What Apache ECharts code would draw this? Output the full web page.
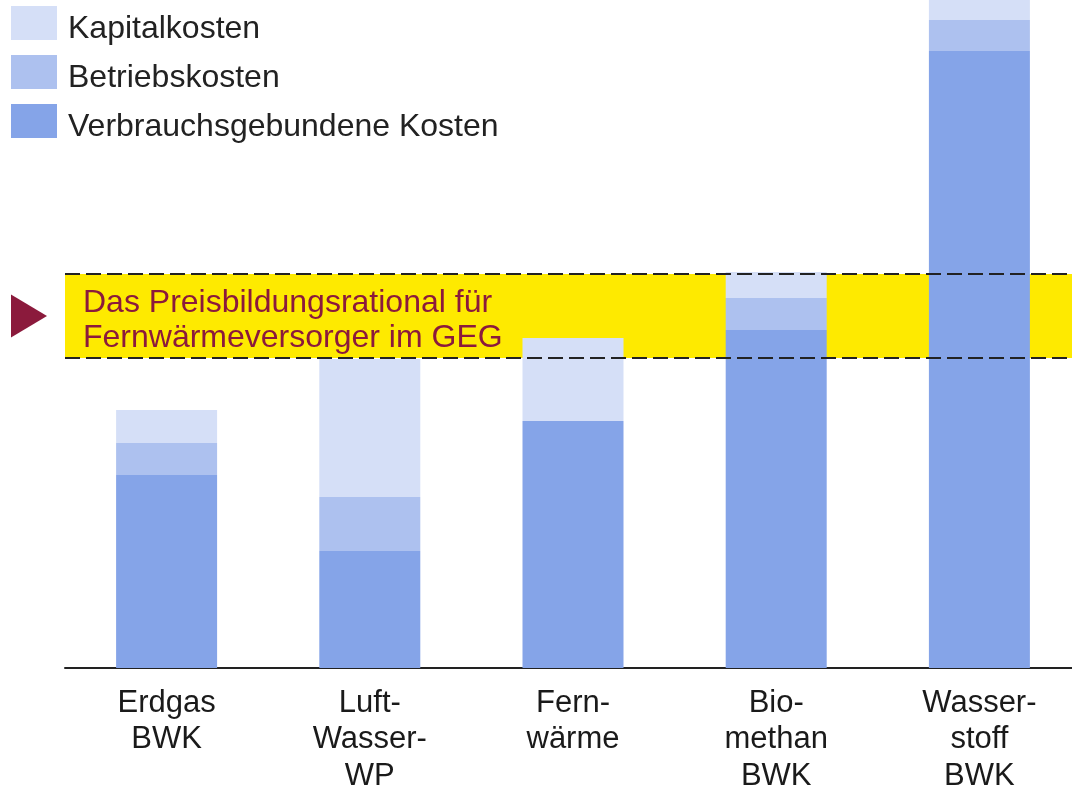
<!DOCTYPE html>
<html>
<head>
<meta charset="utf-8">
<script src="https://cdn.jsdelivr.net/npm/echarts@6/dist/echarts.min.js"></script>
<style>
html,body{margin:0;padding:0;background:#fff;}
#c{width:1072px;height:787px;}
</style>
</head>
<body>
<div id="c"></div>
<script>
const categories = ['Erdgas\nBWK', 'Luft-\nWasser-\nWP', 'Fern-\nwärme', 'Bio-\nmethan\nBWK', 'Wasser-\nstoff\nBWK'];
const seriesNames = ['Kapitalkosten', 'Betriebskosten', 'Verbrauchsgebundene Kosten'];
const verbrauch = [193, 117, 247, 338, 617];
const betrieb = [32, 54, 0, 32, 31];
const kapital = [33, 138, 83, 26, 30];
const bandRange = [310, 394];
const bandLabel = 'Das Preisbildungsrational für\nFernwärmeversorger im GEG';

const FONT = "'Liberation Sans', Arial, Helvetica, sans-serif";
const chart = echarts.init(document.getElementById('c'), null, {renderer: 'canvas'});

const option = {
  animation: false,
  backgroundColor: '#ffffff',
  legend: {
    orient: 'vertical',
    left: 11,
    top: 6,
    padding: 0,
    itemWidth: 46,
    itemHeight: 34,
    itemGap: 10,
    icon: 'rect',
    data: seriesNames,
    formatter: '{t|{name}}',
    textStyle: {
      fontFamily: FONT, fontSize: 32, color: '#222', padding: [0, 0, 0, 6],
      rich: {t: {fontFamily: FONT, fontSize: 32, color: '#222', padding: [12, 0, 0, 0]}}
    }
  },
  grid: {left: 65, width: 1016, top: 0, bottom: 119, outerBoundsMode: 'none', containLabel: false},
  xAxis: {
    type: 'category',
    data: categories,
    axisLine: {show: true, lineStyle: {color: '#222', width: 2}},
    axisTick: {show: false},
    axisLabel: {fontFamily: FONT, fontSize: 31, color: '#1a1a1a', lineHeight: 36.5, margin: 17, interval: 0}
  },
  yAxis: {
    type: 'value',
    min: 0,
    max: 668,
    show: false,
    splitLine: {show: false}
  },
  series: [
    {
      name: seriesNames[2],
      type: 'bar',
      stack: 'k',
      barWidth: 101,
      data: verbrauch,
      itemStyle: {color: '#85A4E8'},
      markArea: {
        silent: true,
        itemStyle: {color: '#FEEA00'},
        label: {
          show: true,
          position: 'insideLeft',
          distance: 18,
          offset: [0, 5],
          fontFamily: FONT,
          fontSize: 32,
          lineHeight: 35,
          color: '#8B1A3C'
        },
        data: [[{yAxis: bandRange[0], name: bandLabel}, {yAxis: bandRange[1]}]]
      },
      markLine: {
        silent: true,
        symbol: ['none', 'none'],
        label: {show: false},
        lineStyle: {color: '#222', width: 2, type: [15, 6]},
        data: [{yAxis: bandRange[0]}, {yAxis: bandRange[1]}]
      }
    },
    {
      name: seriesNames[1],
      type: 'bar',
      stack: 'k',
      barWidth: 101,
      data: betrieb,
      itemStyle: {color: '#ADC1EF'}
    },
    {
      name: seriesNames[0],
      type: 'bar',
      stack: 'k',
      barWidth: 101,
      data: kapital,
      itemStyle: {color: '#D5DFF7'}
    }
  ]
};
chart.setOption(option);

const yMid = chart.convertToPixel({yAxisIndex: 0}, (bandRange[0] + bandRange[1]) / 2);
chart.setOption({
  graphic: [{
    type: 'polygon',
    z: 10,
    shape: {points: [[11, yMid - 21.5], [47, yMid], [11, yMid + 21.5]]},
    style: {fill: '#8B1A3C'}
  }]
});
</script>
</body>
</html>
